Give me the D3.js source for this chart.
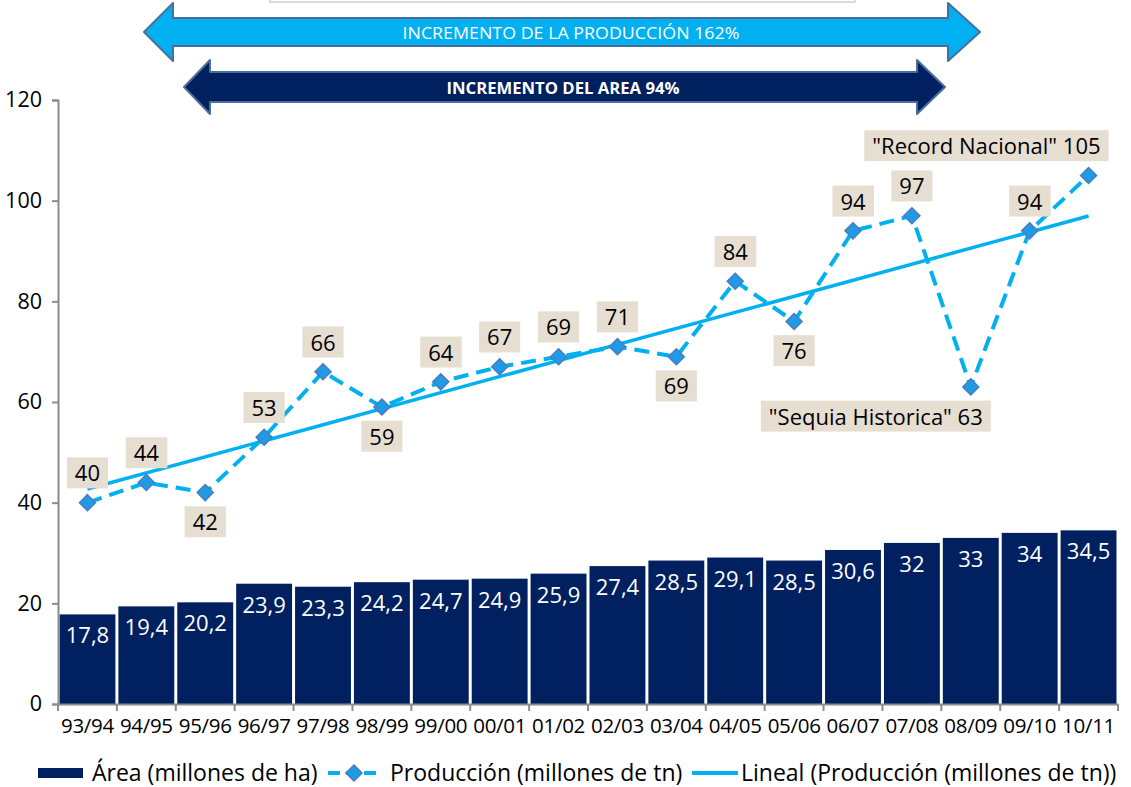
<!DOCTYPE html>
<html>
<head>
<meta charset="utf-8">
<script src="https://cdn.jsdelivr.net/npm/d3@7"></script>
<style>
  body { margin: 0; background: #fff; }
  svg { display: block; font-family: "Open Sans", "Noto Sans", sans-serif; }
</style>
</head>
<body>
<div id="chart"></div>
<script>
// campañas
var campanias = ["93/94","94/95","95/96","96/97","97/98","98/99","99/00","00/01","01/02",
                 "02/03","03/04","04/05","05/06","06/07","07/08","08/09","09/10","10/11"];
// área sembrada (millones de ha)
var area = [17.8,19.4,20.2,23.9,23.3,24.2,24.7,24.9,25.9,27.4,28.5,29.1,28.5,30.6,32,33,34,34.5];
// producción (millones de tn)
var produccion = [40,44,42,53,66,59,64,67,69,71,69,84,76,94,97,63,94,105];
// posicion de la etiqueta: arriba / abajo
var posEtiqueta = ["t","t","b","t","t","b","t","t","t","t","b","t","b","t","t","b","t","t"];
var prefijoEtiqueta = ["","","","","","","","","","","","","","","","\"Sequia Historica\" ","","\"Record Nacional\" "];
var yTicks = [0,20,40,60,80,100,120];

var width = 1131, height = 787;
var margin = {top: 100, right: 13, bottom: 83, left: 58};

var svg = d3.select("#chart").append("svg")
    .attr("width", width)
    .attr("height", height);

var x = d3.scaleBand()
    .domain(campanias)
    .range([margin.left, width - margin.right])
    .padding(0);
var y = d3.scaleLinear()
    .domain([0, 120])
    .range([height - margin.bottom, margin.top]);

var azulClaro = "#00b0f0", azulOscuro = "#002060";

// caja de titulo cortada arriba
svg.append("rect")
    .attr("x", 270).attr("y", -20)
    .attr("width", 585).attr("height", 22)
    .attr("fill", "#fff").attr("stroke", "#d0d0d0").attr("stroke-width", 1.5);

// flechas de incremento
function flecha(x0, x1, xs0, xs1, yc, hs, hh, fill, texto, bold, fs, tx, largo) {
    var pts = [[x0, yc], [xs0, yc - hh], [xs0, yc - hs], [xs1, yc - hs], [xs1, yc - hh],
               [x1, yc], [xs1, yc + hh], [xs1, yc + hs], [xs0, yc + hs], [xs0, yc + hh]];
    svg.append("polygon")
        .attr("points", pts.map(function(p) { return p.join(","); }).join(" "))
        .attr("fill", fill)
        .attr("stroke", "#4a6e9c")
        .attr("stroke-width", 2)
        .attr("stroke-linejoin", "round");
    svg.append("text")
        .attr("x", tx)
        .attr("y", yc + 1)
        .attr("dy", "0.35em")
        .attr("text-anchor", "middle")
        .attr("fill", "#fff")
        .attr("font-size", fs)
        .attr("font-weight", bold ? "bold" : "normal")
        .attr("font-family", "'Liberation Sans Narrow', 'Open Sans', sans-serif")
        .attr("textLength", largo)
        .attr("lengthAdjust", "spacingAndGlyphs")
        .text(texto);
}
flecha(144, 980, 173, 948, 32, 14, 29, azulClaro, "INCREMENTO DE LA PRODUCCIÓN 162%", false, 17, 571, 337);
flecha(184, 945, 210, 917, 87, 15, 27, azulOscuro, "INCREMENTO DEL AREA 94%", true, 16, 563, 233);

// barras
svg.selectAll(".bar")
    .data(area)
    .enter().append("rect")
    .attr("class", "bar")
    .attr("x", function(d, i) { return x(campanias[i]) + 1.5; })
    .attr("width", x.bandwidth() - 3)
    .attr("y", function(d) { return y(d); })
    .attr("height", function(d) { return y(0) - y(d); })
    .attr("fill", azulOscuro);

svg.selectAll(".bar-label")
    .data(area)
    .enter().append("text")
    .attr("class", "bar-label")
    .attr("x", function(d, i) { return x(campanias[i]) + x.bandwidth() / 2; })
    .attr("y", function(d) { return y(d) + 29; })
    .attr("text-anchor", "middle")
    .attr("fill", "#fff")
    .attr("font-size", 22)
    .text(function(d) { return String(d).replace(".", ","); });

// ejes
var axisColor = "#8c8c8c";
var yAxis = svg.append("g")
    .attr("transform", "translate(" + margin.left + ",0)")
    .call(d3.axisLeft(y).tickValues(yTicks).tickSize(6).tickPadding(10));
yAxis.select(".domain").attr("stroke", axisColor).attr("stroke-width", 2);
yAxis.selectAll(".tick line").attr("stroke", axisColor).attr("stroke-width", 2);
yAxis.selectAll(".tick text").attr("font-size", 21.5).attr("fill", "#000")
    .attr("font-family", "'Open Sans', sans-serif");

var xAxis = svg.append("g")
    .attr("transform", "translate(0," + y(0) + ")")
    .call(d3.axisBottom(x).tickSize(0).tickPadding(14));
xAxis.select(".domain").attr("stroke", axisColor).attr("stroke-width", 2);
xAxis.selectAll(".tick text").attr("font-size", 20.5).attr("fill", "#000")
    .attr("font-family", "'Open Sans', sans-serif").style("letter-spacing", "-0.3px");
xAxis.selectAll(".sep")
    .data(d3.range(campanias.length + 1))
    .enter().append("line")
    .attr("class", "sep")
    .attr("x1", function(i) { return margin.left + i * x.step(); })
    .attr("x2", function(i) { return margin.left + i * x.step(); })
    .attr("y1", 0).attr("y2", 7)
    .attr("stroke", axisColor).attr("stroke-width", 2);

// linea de tendencia (regresion lineal)
var n = produccion.length;
var mx = d3.mean(d3.range(n)), my = d3.mean(produccion);
var sxy = d3.sum(produccion, function(d, i) { return (i - mx) * (d - my); });
var sxx = d3.sum(d3.range(n), function(i) { return (i - mx) * (i - mx); });
var pend = sxy / sxx, orig = my - pend * mx;
var cx = function(i) { return x(campanias[i]) + x.bandwidth() / 2; };

svg.append("line")
    .attr("x1", cx(0)).attr("y1", y(orig))
    .attr("x2", cx(n - 1)).attr("y2", y(orig + pend * (n - 1)))
    .attr("stroke", azulClaro)
    .attr("stroke-width", 3.5);

// linea de produccion
var line = d3.line()
    .x(function(d, i) { return cx(i); })
    .y(function(d) { return y(d); });
svg.append("path")
    .datum(produccion)
    .attr("d", line)
    .attr("fill", "none")
    .attr("stroke", azulClaro)
    .attr("stroke-width", 4)
    .attr("stroke-dasharray", "15,8");

var diamante = "M0,-8L8,0L0,8L-8,0Z";
svg.selectAll(".punto")
    .data(produccion)
    .enter().append("path")
    .attr("class", "punto")
    .attr("d", diamante)
    .attr("transform", function(d, i) { return "translate(" + cx(i) + "," + y(d) + ")"; })
    .attr("fill", "#1f9be6")
    .attr("stroke", "#4a7cc0")
    .attr("stroke-width", 1.5);

// etiquetas de datos
var etiquetas = svg.selectAll(".etiqueta")
    .data(produccion)
    .enter().append("g")
    .attr("class", "etiqueta");
etiquetas.append("rect").attr("fill", "#e6ded1");
etiquetas.append("text")
    .attr("x", function(d, i) { return prefijoEtiqueta[i] ? cx(i) + 12 : cx(i); })
    .attr("y", function(d, i) { return y(d) + (posEtiqueta[i] === "t" ? -29 : 30); })
    .attr("dy", "0.35em")
    .attr("text-anchor", function(d, i) { return prefijoEtiqueta[i] ? "end" : "middle"; })
    .attr("font-size", 22)
    .attr("fill", "#000")
    .text(function(d, i) { return prefijoEtiqueta[i] + d; });
etiquetas.each(function() {
    var g = d3.select(this);
    var b = g.select("text").node().getBBox();
    g.select("rect")
        .attr("x", b.x - 8).attr("y", b.y)
        .attr("width", b.width + 16).attr("height", b.height + 1);
});

// leyenda
var ly = 773;
var leyenda = svg.append("g").attr("font-size", 23);
leyenda.append("rect").attr("x", 38).attr("y", ly - 5).attr("width", 45).attr("height", 10).attr("fill", azulOscuro);
leyenda.append("text").attr("x", 92).attr("y", ly).attr("dy", "0.35em").text("Área (millones de ha)");
leyenda.append("line").attr("x1", 328).attr("x2", 380).attr("y1", ly).attr("y2", ly)
    .attr("stroke", azulClaro).attr("stroke-width", 4).attr("stroke-dasharray", "12,6");
leyenda.append("path").attr("d", diamante)
    .attr("transform", "translate(354," + ly + ")")
    .attr("fill", "#1f9be6").attr("stroke", "#4a7cc0").attr("stroke-width", 1.5);
leyenda.append("text").attr("x", 390).attr("y", ly).attr("dy", "0.35em").text("Producción (millones de tn)");
leyenda.append("line").attr("x1", 692).attr("x2", 738).attr("y1", ly).attr("y2", ly)
    .attr("stroke", azulClaro).attr("stroke-width", 4);
leyenda.append("text").attr("x", 741).attr("y", ly).attr("dy", "0.35em").text("Lineal (Producción (millones de tn))");
</script>
</body>
</html>
